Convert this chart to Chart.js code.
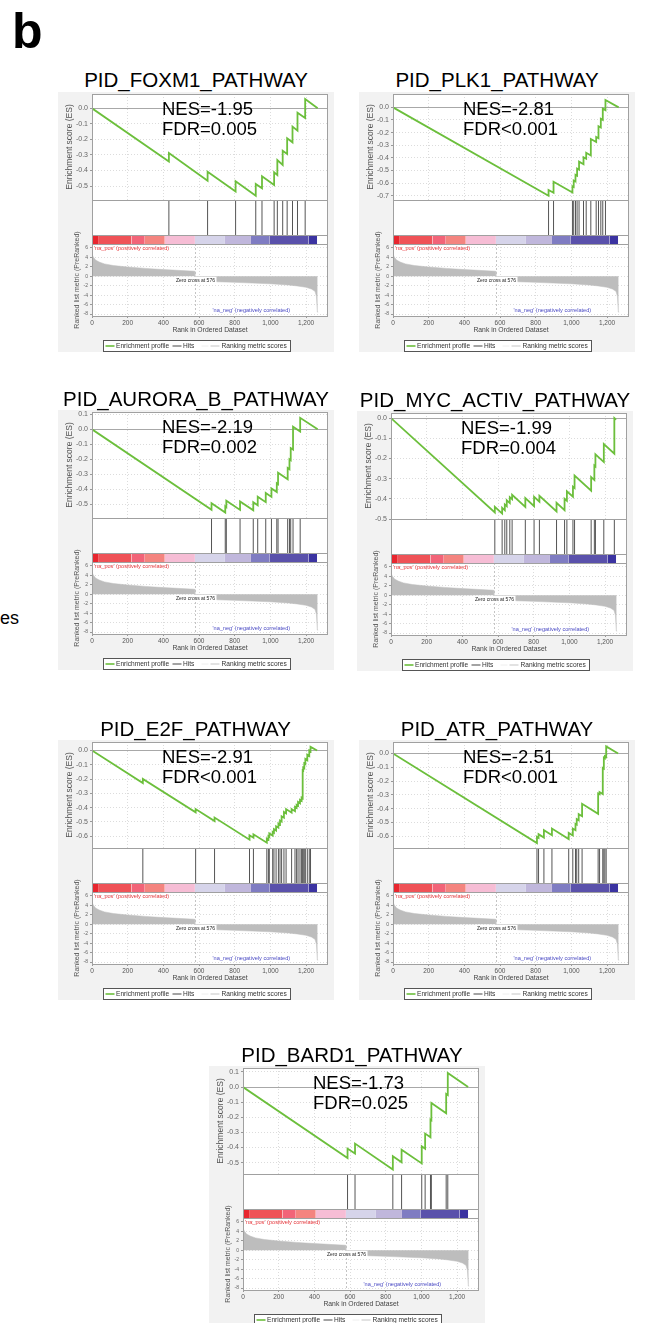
<!DOCTYPE html>
<html lang="en">
<head>
<meta charset="UTF-8">
<title>GSEA enrichment plots</title>
<script src="https://cdn.jsdelivr.net/npm/chart.js"></script>
<style>
  body { margin: 0; background: #fff; font-family: 'Liberation Sans', Arial, sans-serif; }
  #page { position: relative; width: 648px; height: 1323px; overflow: hidden; }
  .panel { position: absolute; width: 276px; height: 260px; background: #f2f2f2; }
  .panel canvas { display: block; }
  .ttl { position: absolute; width: 276px; text-align: center; font-size: 20.5px; line-height: 24px; white-space: nowrap; color: #000; }
  .lbl { position: absolute; white-space: nowrap; color: #000; }
</style>
</head>
<body>
<div id="page">
  <div class="lbl" style="left:12px; top:6px; font-size:50px; font-weight:bold; line-height:50px;">b</div>
  <div class="lbl" style="left:0; top:608px; font-size:18px; line-height:20px;">es</div>
</div>
<script>
// shared ranked list (same for every gene set)
const rankTicks = [0, 200, 400, 600, 800, 1000, 1200];
const metricTicks = [6, 4, 2, 0, -2, -4, -6, -8];
const zeroCross = 576;
const naNegAt = 893;
const metricCurve = [[0, 4.8], [2, 4.5], [8, 4.0], [20, 3.4], [40, 3.0], [70, 2.6], [120, 2.25], [200, 1.95],
  [300, 1.65], [400, 1.4], [500, 1.2], [575, 1.05], [577, -1.0], [650, -1.1], [800, -1.3], [900, -1.45],
  [1000, -1.6], [1100, -1.85], [1150, -2.05], [1200, -2.35], [1230, -2.7], [1250, -3.2], [1258, -4.2],
  [1263, -7.5], [1265, -7.6]];
const barEdges = [0, 34, 221, 296, 408, 577, 745, 891, 994, 1213, 1262];
const barColors = ['#e8262f', '#ef5257', '#f26478', '#f4847f', '#f6bdd5', '#d6d4ea', '#c0b7dc', '#7f7cc2', '#5a51ab', '#3b33a1'];

// axis ticks for the enrichment score
const esTicks5 = [0, -0.1, -0.2, -0.3, -0.4, -0.5];
const esTicks6 = [0, -0.1, -0.2, -0.3, -0.4, -0.5, -0.6];
const esTicks7 = [0, -0.1, -0.2, -0.3, -0.4, -0.5, -0.6, -0.7];
const esTicksP = [0.1, 0, -0.1, -0.2, -0.3, -0.4, -0.5];

// hits and running enrichment score
const foxm1Hits = [431, 648, 805, 918, 953, 1021, 1039, 1069, 1094, 1124, 1152, 1195];
const foxm1Es = [[0, 0], [431, -0.343], [431, -0.288], [648, -0.466], [648, -0.408], [805, -0.536], [805, -0.47],
  [918, -0.562], [918, -0.487], [953, -0.515], [953, -0.438], [1021, -0.494], [1021, -0.412], [1039, -0.43],
  [1039, -0.333], [1069, -0.365], [1069, -0.273], [1094, -0.294], [1094, -0.193], [1124, -0.219], [1124, -0.118],
  [1152, -0.144], [1152, -0.028], [1195, -0.062], [1195, 0.06], [1265, 0]];

const plk1Hits = [872, 900, 1006, 1013, 1023, 1032, 1043, 1068, 1083, 1109, 1139, 1152, 1165, 1176, 1191];
const plk1Es = [[0, 0], [872, -0.70], [872, -0.655], [900, -0.677], [900, -0.59], [1006, -0.675], [1006, -0.625],
  [1013, -0.631], [1013, -0.58], [1023, -0.588], [1023, -0.535], [1032, -0.542], [1032, -0.485], [1043, -0.494],
  [1043, -0.43], [1068, -0.45], [1068, -0.395], [1083, -0.407], [1083, -0.36], [1109, -0.381], [1109, -0.25],
  [1139, -0.274], [1139, -0.235], [1152, -0.245], [1152, -0.15], [1165, -0.16], [1165, -0.09], [1176, -0.099],
  [1176, -0.01], [1191, -0.022], [1191, 0.058], [1265, 0]];

const auroraHits = [670, 747, 753, 830, 904, 929, 974, 1006, 1036, 1043, 1097, 1107, 1114, 1127, 1167];
const auroraEs = [[0, 0], [670, -0.537], [670, -0.493], [747, -0.555], [747, -0.515], [753, -0.52], [753, -0.476],
  [830, -0.538], [830, -0.482], [904, -0.541], [904, -0.487], [929, -0.507], [929, -0.45], [974, -0.486],
  [974, -0.425], [1006, -0.451], [1006, -0.395], [1036, -0.419], [1036, -0.36], [1043, -0.366], [1043, -0.29],
  [1097, -0.333], [1097, -0.258], [1107, -0.266], [1107, -0.2], [1114, -0.206], [1114, -0.125], [1127, -0.135],
  [1127, 0.018], [1167, -0.014], [1167, 0.077], [1265, 0]];

const mycHits = [582, 623, 638, 649, 666, 679, 753, 802, 832, 928, 973, 986, 1020, 1029, 1122, 1140, 1146, 1193, 1252];
const mycEs = [[0, 0], [582, -0.468], [582, -0.44], [623, -0.473], [623, -0.445], [638, -0.457], [638, -0.428],
  [649, -0.437], [649, -0.407], [666, -0.421], [666, -0.392], [679, -0.402], [679, -0.38], [753, -0.44],
  [753, -0.396], [802, -0.436], [802, -0.39], [832, -0.414], [832, -0.385], [928, -0.463], [928, -0.42],
  [973, -0.456], [973, -0.4], [986, -0.41], [986, -0.363], [1020, -0.39], [1020, -0.34], [1029, -0.347],
  [1029, -0.285], [1122, -0.36], [1122, -0.292], [1140, -0.307], [1140, -0.235], [1146, -0.24], [1146, -0.18],
  [1193, -0.218], [1193, -0.129], [1252, -0.177], [1252, 0.0], [1262, -0.008]];

const e2fHits = [285, 581, 687, 883, 905, 980, 989, 994, 1013, 1020, 1032, 1045, 1054, 1063, 1076, 1088, 1119,
  1138, 1147, 1155, 1166, 1175, 1181, 1184, 1190, 1196, 1207, 1218, 1225];
const e2fEs = [[0, 0], [285, -0.228], [285, -0.199], [581, -0.433], [581, -0.41], [687, -0.494], [687, -0.469],
  [883, -0.624], [883, -0.593], [905, -0.61], [905, -0.586], [980, -0.645], [980, -0.616], [989, -0.623],
  [989, -0.6], [994, -0.604], [994, -0.58], [1013, -0.595], [1013, -0.57], [1020, -0.576], [1020, -0.55],
  [1032, -0.56], [1032, -0.53], [1045, -0.54], [1045, -0.51], [1054, -0.517], [1054, -0.49], [1063, -0.497],
  [1063, -0.46], [1076, -0.47], [1076, -0.43], [1088, -0.44], [1088, -0.41], [1119, -0.435], [1119, -0.41],
  [1138, -0.425], [1138, -0.395], [1147, -0.402], [1147, -0.38], [1155, -0.386], [1155, -0.36], [1166, -0.369],
  [1166, -0.345], [1175, -0.352], [1175, -0.33], [1181, -0.335], [1181, -0.14], [1184, -0.142], [1184, -0.12],
  [1190, -0.125], [1190, -0.09], [1196, -0.095], [1196, -0.06], [1207, -0.069], [1207, -0.03], [1218, -0.039],
  [1218, 0.0], [1225, -0.006], [1225, 0.025], [1262, 0]];

const atrHits = [807, 816, 846, 891, 985, 1008, 1023, 1030, 1041, 1060, 1150, 1158, 1176, 1182, 1188, 1195];
const atrEs = [[0, 0], [807, -0.649], [807, -0.605], [816, -0.612], [816, -0.585], [846, -0.609], [846, -0.556],
  [891, -0.592], [891, -0.544], [985, -0.62], [985, -0.576], [1008, -0.594], [1008, -0.544], [1023, -0.556],
  [1023, -0.51], [1030, -0.516], [1030, -0.475], [1041, -0.484], [1041, -0.44], [1060, -0.455], [1060, -0.365],
  [1150, -0.437], [1150, -0.29], [1158, -0.296], [1158, -0.28], [1176, -0.294], [1176, -0.105], [1182, -0.11],
  [1182, -0.03], [1188, -0.035], [1188, -0.02], [1195, -0.026], [1195, 0.051], [1262, 0]];

const bard1Hits = [586, 628, 840, 889, 1002, 1021, 1051, 1056, 1139, 1148];
const bard1Es = [[0, 0], [586, -0.469], [586, -0.407], [628, -0.44], [628, -0.374], [840, -0.545], [840, -0.458],
  [889, -0.498], [889, -0.414], [1002, -0.505], [1002, -0.392], [1021, -0.408], [1021, -0.308], [1051, -0.332],
  [1051, -0.216], [1056, -0.22], [1056, -0.106], [1139, -0.174], [1139, -0.046], [1148, -0.053], [1148, 0.093],
  [1262, 0]];

const panels = [
  { title: 'PID_FOXM1_PATHWAY', nes: 'NES=-1.95', fdr: 'FDR=0.005', hits: foxm1Hits, es: foxm1Es, esMin: -0.59, esMax: 0.092, ticks: esTicks5, x: 58, y: 91.5 },
  { title: 'PID_PLK1_PATHWAY', nes: 'NES=-2.81', fdr: 'FDR<0.001', hits: plk1Hits, es: plk1Es, esMin: -0.734, esMax: 0.106, ticks: esTicks7, x: 359, y: 91.5 },
  { title: 'PID_AURORA_B_PATHWAY', nes: 'NES=-2.19', fdr: 'FDR=0.002', hits: auroraHits, es: auroraEs, esMin: -0.592, esMax: 0.116, ticks: esTicksP, x: 58, y: 410 },
  { title: 'PID_MYC_ACTIV_PATHWAY', nes: 'NES=-1.99', fdr: 'FDR=0.004', hits: mycHits, es: mycEs, esMin: -0.5, esMax: 0.025, ticks: esTicks5, x: 357, y: 411 },
  { title: 'PID_E2F_PATHWAY', nes: 'NES=-2.91', fdr: 'FDR<0.001', hits: e2fHits, es: e2fEs, esMin: -0.682, esMax: 0.059, ticks: esTicks6, x: 57.5, y: 740 },
  { title: 'PID_ATR_PATHWAY', nes: 'NES=-2.51', fdr: 'FDR<0.001', hits: atrHits, es: atrEs, esMin: -0.685, esMax: 0.083, ticks: esTicks6, x: 359, y: 740 },
  { title: 'PID_BARD1_PATHWAY', nes: 'NES=-1.73', fdr: 'FDR=0.025', hits: bard1Hits, es: bard1Es, esMin: -0.575, esMax: 0.126, ticks: esTicksP, x: 209, y: 1066, dx: 5 }
];

const FAM = "'Liberation Sans', Arial, sans-serif";

// white plot bands, outlines, labels and the boxed legend
const decor = {
  id: 'decor',
  beforeDraw(chart) {
    const { ctx, chartArea: a } = chart;
    ctx.save();
    ctx.fillStyle = '#fff';
    ctx.fillRect(a.left, a.top, a.width, a.height);
    ctx.restore();
  },
  beforeDatasetsDraw(chart) {
    const { ctx, chartArea: a, scales: s } = chart;
    ctx.save();
    ctx.fillStyle = '#fff';
    ctx.fillRect(a.left, s.hits.top, a.width, s.cb.bottom - s.hits.top);
    const y0 = Math.round(s.es.getPixelForValue(0)) + 0.5;
    ctx.strokeStyle = '#a8a8a8';
    ctx.lineWidth = 1;
    ctx.beginPath(); ctx.moveTo(a.left, y0); ctx.lineTo(a.right, y0); ctx.stroke();
    ctx.restore();
  },
  afterDatasetsDraw(chart, args, opts) {
    const { ctx, chartArea: a, scales: s } = chart;
    ctx.save();
    // zero cross marker
    const xz = Math.round(s.x.getPixelForValue(zeroCross)) + 0.5;
    ctx.strokeStyle = '#c4c4c4';
    ctx.lineWidth = 1;
    ctx.setLineDash([2, 2]);
    ctx.beginPath(); ctx.moveTo(xz, s.rm.top); ctx.lineTo(xz, s.rm.bottom); ctx.stroke();
    ctx.setLineDash([]);
    const yz = s.rm.getPixelForValue(0);
    ctx.fillStyle = '#fff';
    ctx.fillRect(xz - 21, yz + 0.5, 42, 7);
    ctx.font = '5px ' + FAM;
    ctx.fillStyle = '#222';
    ctx.textAlign = 'center';
    ctx.textBaseline = 'middle';
    ctx.fillText('Zero cross at ' + zeroCross, xz, yz + 4);
    ctx.font = '5.6px ' + FAM;
    ctx.textAlign = 'left';
    ctx.fillStyle = '#e8383d';
    ctx.fillText("'na_pos' (positively correlated)", a.left + 2, s.rm.top + 4);
    ctx.textAlign = 'center';
    ctx.fillStyle = '#4b4bc4';
    ctx.fillText("'na_neg' (negatively correlated)", s.x.getPixelForValue(naNegAt), s.rm.bottom - 5.5);
    // band outlines
    ctx.strokeStyle = '#a0a0a0';
    const L = Math.round(a.left) + 0.5, W = Math.round(a.width) - 1;
    [s.es, s.hits, s.cb, s.rm].forEach(sc => {
      const t = Math.round(sc.top), b = Math.round(sc.bottom);
      ctx.strokeRect(L, t + 0.5, W, b - t);
    });
    // NES / FDR
    ctx.font = '18.5px ' + FAM;
    ctx.fillStyle = '#000';
    ctx.textAlign = 'left';
    ctx.textBaseline = 'alphabetic';
    ctx.fillText(opts.nes, a.left + 70, s.es.top + 21.3);
    ctx.fillText(opts.fdr, a.left + 70, s.es.top + 41.3);
    ctx.restore();
  },
  afterDraw(chart) {
    const { ctx, chartArea: a } = chart;
    const w = 187, h = 11;
    const lx = Math.round((chart.width - w) / 2) + 0.5, ly = Math.round(a.bottom + 24) + 0.5;
    const my = ly + h / 2;
    ctx.save();
    ctx.fillStyle = '#fff';
    ctx.fillRect(lx, ly, w, h);
    ctx.strokeStyle = '#555';
    ctx.lineWidth = 1;
    ctx.strokeRect(lx, ly, w, h);
    const seg = (x0, x1, col, lw) => {
      ctx.strokeStyle = col; ctx.lineWidth = lw;
      ctx.beginPath(); ctx.moveTo(lx + x0, my); ctx.lineTo(lx + x1, my); ctx.stroke();
    };
    seg(2, 11, '#6cbf3c', 1.6);
    seg(69, 78, '#666', 1.2);
    seg(98, 105, '#eeeeee', 1);
    seg(107, 116, '#cfcfcf', 1.2);
    ctx.font = '6.6px ' + FAM;
    ctx.fillStyle = '#333';
    ctx.textAlign = 'left';
    ctx.textBaseline = 'middle';
    ctx.fillText('Enrichment profile', lx + 12.5, my);
    ctx.fillText('Hits', lx + 79.5, my);
    ctx.fillText('Ranking metric scores', lx + 118, my);
    ctx.restore();
  }
};

function setTicks(values) {
  return scale => { scale.ticks = values.map(v => ({ value: v })); };
}

function buildPanel(p) {
  const page = document.getElementById('page');
  const box = document.createElement('div');
  box.className = 'panel';
  box.style.left = p.x + 'px';
  box.style.top = p.y + 'px';
  const cv = document.createElement('canvas');
  cv.width = 276;
  cv.height = 260;
  box.appendChild(cv);
  page.appendChild(box);

  const t = document.createElement('div');
  t.className = 'ttl';
  t.textContent = p.title;
  t.style.left = (p.x + (p.dx || 0)) + 'px';
  t.style.top = (p.y - 23.5) + 'px';
  page.appendChild(t);

  const hitPts = [];
  p.hits.forEach(h => { hitPts.push({ x: h, y: 0 }, { x: h, y: 1 }, { x: h, y: null }); });

  const datasets = [
    { label: 'Enrichment profile', data: p.es.map(([x, y]) => ({ x, y })), yAxisID: 'es',
      borderColor: '#6cbf3c', borderWidth: 1.8, pointRadius: 0, fill: false, tension: 0 },
    { label: 'Hits', data: hitPts, yAxisID: 'hits', borderColor: '#555', borderWidth: 1,
      pointRadius: 0, fill: false, spanGaps: false }
  ];
  barColors.forEach((c, i) => {
    datasets.push({ label: 'bar', data: [{ x: barEdges[i], y: 1 }, { x: barEdges[i + 1], y: 1 }], yAxisID: 'cb',
      borderWidth: 0, borderColor: c, backgroundColor: c, pointRadius: 0, fill: 'origin' });
  });
  datasets.push({ label: 'Ranking metric scores', data: metricCurve.map(([x, y]) => ({ x, y })), yAxisID: 'rm',
    borderColor: '#bdbdbd', borderWidth: 0.5, backgroundColor: '#bdbdbd', pointRadius: 0, fill: 'origin', tension: 0 });

  const gridOpts = { color: '#dcdcdc', tickColor: '#999', tickLength: 2 };
  const bandY = (weight, stackWeight, extra) => Object.assign({
    position: 'left', stack: 'gsea', weight: weight, stackWeight: stackWeight
  }, extra);

  new Chart(cv.getContext('2d'), {
    type: 'line',
    data: { datasets },
    plugins: [decor],
    options: {
      responsive: false,
      animation: false,
      events: [],
      layout: { padding: { top: 2, right: 6, bottom: 16, left: 0 } },
      plugins: {
        legend: { display: false },
        tooltip: { enabled: false },
        decor: { nes: p.nes, fdr: p.fdr }
      },
      scales: {
        x: {
          type: 'linear', min: 0, max: 1323,
          afterBuildTicks: setTicks(rankTicks),
          afterFit: s => { s.height = 20; s.paddingLeft = 0; s.paddingRight = 0; },
          grid: gridOpts,
          border: { display: false, dash: [1, 2] },
          ticks: { font: { size: 6.5, family: FAM }, color: '#555', padding: 1, maxRotation: 0, autoSkip: false,
            callback: v => v.toLocaleString('en-US') },
          title: { display: true, text: 'Rank in Ordered Dataset', font: { size: 6.8, family: FAM }, color: '#444',
            padding: { top: 0, bottom: 2 } }
        },
        es: bandY(4, 106, {
          min: p.esMin, max: p.esMax,
          afterBuildTicks: setTicks(p.ticks),
          afterFit: s => { s.width = 34; s.paddingTop = 0; s.paddingBottom = 0; },
          grid: gridOpts,
          border: { display: false, dash: [1, 2] },
          ticks: { font: { size: 7, family: FAM }, color: '#666', padding: 2, autoSkip: false,
            callback: v => v.toFixed(1) },
          title: { display: true, text: 'Enrichment score (ES)', font: { size: 8.5, family: FAM }, color: '#555',
            padding: { top: 7, bottom: 0 } }
        }),
        hits: bandY(3, 35, { min: 0, max: 1, display: false }),
        cb: bandY(2, 9, { min: 0, max: 1, display: false }),
        rm: bandY(1, 72, {
          min: -8.4, max: 6.8,
          afterBuildTicks: setTicks(metricTicks),
          afterFit: s => { s.width = 34; s.paddingTop = 0; s.paddingBottom = 0; },
          grid: gridOpts,
          border: { display: false, dash: [1, 2] },
          ticks: { font: { size: 5, family: FAM }, color: '#666', padding: 2, autoSkip: false },
          title: { display: true, text: 'Ranked list metric (PreRanked)', font: { size: 7, family: FAM }, color: '#555',
            padding: { top: 15, bottom: 0 } }
        })
      }
    }
  });
}

panels.forEach(buildPanel);
</script>
</body>
</html>
